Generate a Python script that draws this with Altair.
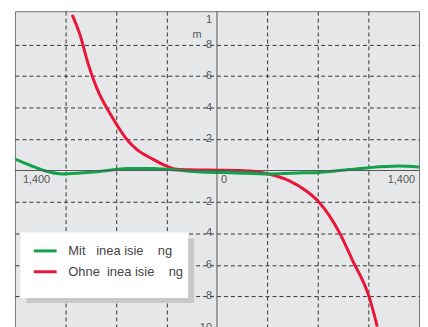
import altair as alt
import pandas as pd

NB = "\u00a0"
series_names = ["Mit" + NB * 3 + "inea" + NB + "isie" + NB * 4 + "ng",
                "Ohne" + NB * 2 + "inea" + NB + "isie" + NB * 4 + "ng"]
series_colors = ["#12a24b", "#e8173a"]

mit_x = [-1400, -1300, -1200, -1060, -950, -800, -625, -440, -350, -210, -30, 90, 360, 600, 710, 916, 1054, 1261, 1400]
mit_y = [0.72, 0.35, 0.0, -0.22, -0.16, -0.05, 0.13, 0.13, 0.08, -0.03, -0.12, -0.14, -0.22, -0.15, -0.12, 0.06, 0.18, 0.28, 0.22]

ohne_x = [-1003, -948, -890, -832, -729, -614, -556, -442, -349, -280, -150, 0, 150, 250, 364, 502, 617, 709, 847, 939, 1054, 1111]
ohne_y = [9.89, 8.59, 6.70, 5.22, 3.44, 1.86, 1.34, 0.71, 0.28, 0.08, 0.04, 0.02, 0.0, -0.05, -0.24, -0.66, -1.29, -2.03, -3.92, -5.71, -8.02, -9.92]

grid_x = [-1050, -700, -350, 350, 700, 1050]
grid_y = [8, 6, 4, 2, -2, -4, -6, -8]

x_left_values = [-1400]
x_left_texts = ["1,400"]
x_zero_values = [0]
x_zero_texts = ["0"]
x_right_values = [1400]
x_right_texts = ["1,400"]

y_label_values = [8, 6, 4, 2, -2, -4, -6, -8, -10]
y_label_texts = ["8", "6", "4", "2", "2", "4", "6", "8", "10"]
y_top_values = [10]
y_top_texts = ["1"]
unit_text = "m"

X_DOM = [-1400, 1400]
Y_DOM = [-10.13, 10.13]
W, H = 407, 321
FONT = "Liberation Sans"
LABEL_COLOR = "#555555"

xs = alt.Scale(domain=X_DOM, nice=False, zero=False)
ys = alt.Scale(domain=Y_DOM, nice=False, zero=False)

df_mit = pd.DataFrame({"x": mit_x, "y": mit_y, "series": series_names[0]})
df_ohne = pd.DataFrame({"x": ohne_x, "y": ohne_y, "series": series_names[1]})

color_enc = alt.Color(
    "series:N",
    scale=alt.Scale(domain=series_names, range=series_colors),
    legend=alt.Legend(
        orient="none", legendX=23, legendY=234, title=None,
        symbolType="M-2,0H2", symbolSize=132, symbolStrokeWidth=3,
        labelFontSize=13, labelFont=FONT, labelColor="#444444",
        labelOffset=15.75, rowPadding=6, padding=0,
    ),
)

x_axis = alt.Axis(values=grid_x, grid=True, gridDash=[4, 3], gridColor="#333333",
                  gridOpacity=1, gridWidth=1, labels=False, ticks=False, domain=False, title=None)
y_axis = alt.Axis(values=grid_y, grid=True, gridDash=[4, 3], gridColor="#333333",
                  gridOpacity=1, gridWidth=1, labels=False, ticks=False, domain=False, title=None)

red = alt.Chart(df_ohne).mark_line(strokeWidth=3, interpolate="monotone", clip=True).encode(
    x=alt.X("x:Q", scale=xs, axis=x_axis),
    y=alt.Y("y:Q", scale=ys, axis=y_axis),
    color=color_enc,
)
green = alt.Chart(df_mit).mark_line(strokeWidth=3, interpolate="monotone", clip=True).encode(
    x=alt.X("x:Q", scale=xs),
    y=alt.Y("y:Q", scale=ys),
    color=color_enc,
)

zero_df = pd.DataFrame({"v": [0]})
hrule = alt.Chart(zero_df).mark_rule(color="#555555", strokeWidth=1).encode(
    y=alt.Y("v:Q", scale=ys))
vrule = alt.Chart(zero_df).mark_rule(color="#555555", strokeWidth=1).encode(
    x=alt.X("v:Q", scale=xs))

def xtext(values, texts, align, dx):
    d = pd.DataFrame({"v": values, "t": texts})
    return alt.Chart(d).mark_text(align=align, baseline="middle", dx=dx, dy=10,
                                  fontSize=11, font=FONT, color=LABEL_COLOR).encode(
        x=alt.X("v:Q", scale=xs), y=alt.datum(0), text="t:N")

def ytext(values, texts, baseline, dy):
    d = pd.DataFrame({"v": values, "t": texts})
    return alt.Chart(d).mark_text(align="right", baseline=baseline, dx=-5, dy=dy,
                                  fontSize=11, font=FONT, color=LABEL_COLOR).encode(
        y=alt.Y("v:Q", scale=ys), x=alt.datum(0), text="t:N")

unit = alt.Chart(pd.DataFrame({"t": [unit_text]})).mark_text(
    align="center", baseline="middle", fontSize=11, font=FONT, color=LABEL_COLOR
).encode(x=alt.value(183.5), y=alt.value(24), text="t:N")

shadow = alt.Chart(pd.DataFrame({"a": [0]})).mark_rect(color="#c8c8c8").encode(
    x=alt.value(11.5), x2=alt.value(180.5), y=alt.value(229), y2=alt.value(294))
box = alt.Chart(pd.DataFrame({"a": [0]})).mark_rect(color="#ffffff").encode(
    x=alt.value(5.5), x2=alt.value(174.5), y=alt.value(223), y2=alt.value(289))

chart = alt.layer(
    red, green, hrule, vrule,
    xtext(x_left_values, x_left_texts, "left", 8),
    xtext(x_zero_values, x_zero_texts, "left", 4),
    xtext(x_right_values, x_right_texts, "right", -4),
    ytext(y_label_values, y_label_texts, "middle", 0),
    ytext(y_top_values, y_top_texts, "top", 1),
    unit, shadow, box,
).properties(
    width=W, height=H, padding={"left": 6, "top": 1, "right": 0, "bottom": 0},
    background="#ffffff",
).configure_view(
    fill="#e6e7e8", stroke="#777777", strokeWidth=1,
)

chart.save("out.html", embed_options={"renderer": "svg", "actions": False})
